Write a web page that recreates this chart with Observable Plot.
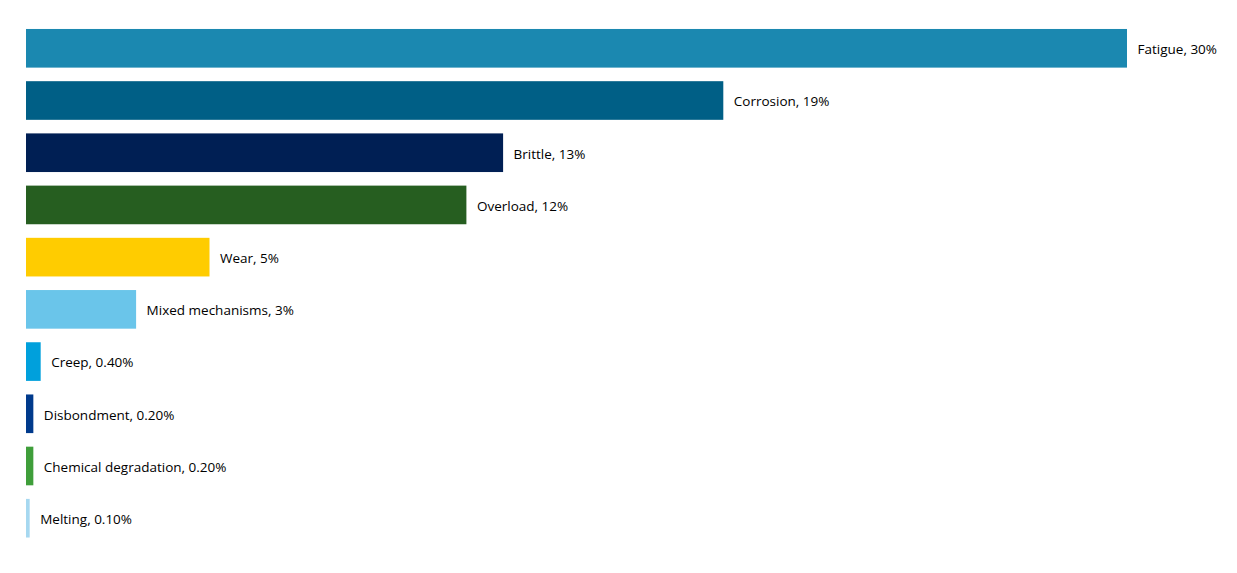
<!DOCTYPE html>
<html>
<head>
<meta charset="utf-8">
<script src="https://cdn.jsdelivr.net/npm/d3@7"></script>
<script src="https://cdn.jsdelivr.net/npm/@observablehq/plot@0.6"></script>
<style>
  html, body { margin: 0; padding: 0; background: #fff; }
</style>
</head>
<body>
<div id="chart"></div>
<script>
const categories = ["Fatigue", "Corrosion", "Brittle", "Overload", "Wear", "Mixed mechanisms", "Creep", "Disbondment", "Chemical degradation", "Melting"];
const values = [30, 19, 13, 12, 5, 3, 0.4, 0.2, 0.2, 0.1];
const valueLabels = ["30%", "19%", "13%", "12%", "5%", "3%", "0.40%", "0.20%", "0.20%", "0.10%"];
const colors = ["#1b88b0", "#005f86", "#001f54", "#265e20", "#ffcc00", "#6ac5ea", "#00a0dc", "#003a8c", "#3f9e3a", "#a6d8f0"];

const data = categories.map((c, i) => ({category: c, value: values[i], label: `${c}, ${valueLabels[i]}`, color: colors[i]}));

const chart = Plot.plot({
  width: 1237,
  height: 573,
  marginLeft: 26,
  marginRight: 110,
  marginTop: 15.4,
  marginBottom: 21.9,
  style: {fontFamily: "'Open Sans', 'Noto Sans', sans-serif", background: "#fff"},
  x: {domain: [0, 30], axis: null},
  y: {domain: categories, padding: 0.26, round: false, axis: null},
  marks: [
    Plot.barX(data, {y: "category", x: "value", fill: "color"}),
    Plot.text(data, {y: "category", x: "value", text: "label", textAnchor: "start", dx: 10, dy: 1, fontSize: 13.5, fill: "#000"})
  ]
});
document.getElementById("chart").appendChild(chart);
</script>
</body>
</html>
